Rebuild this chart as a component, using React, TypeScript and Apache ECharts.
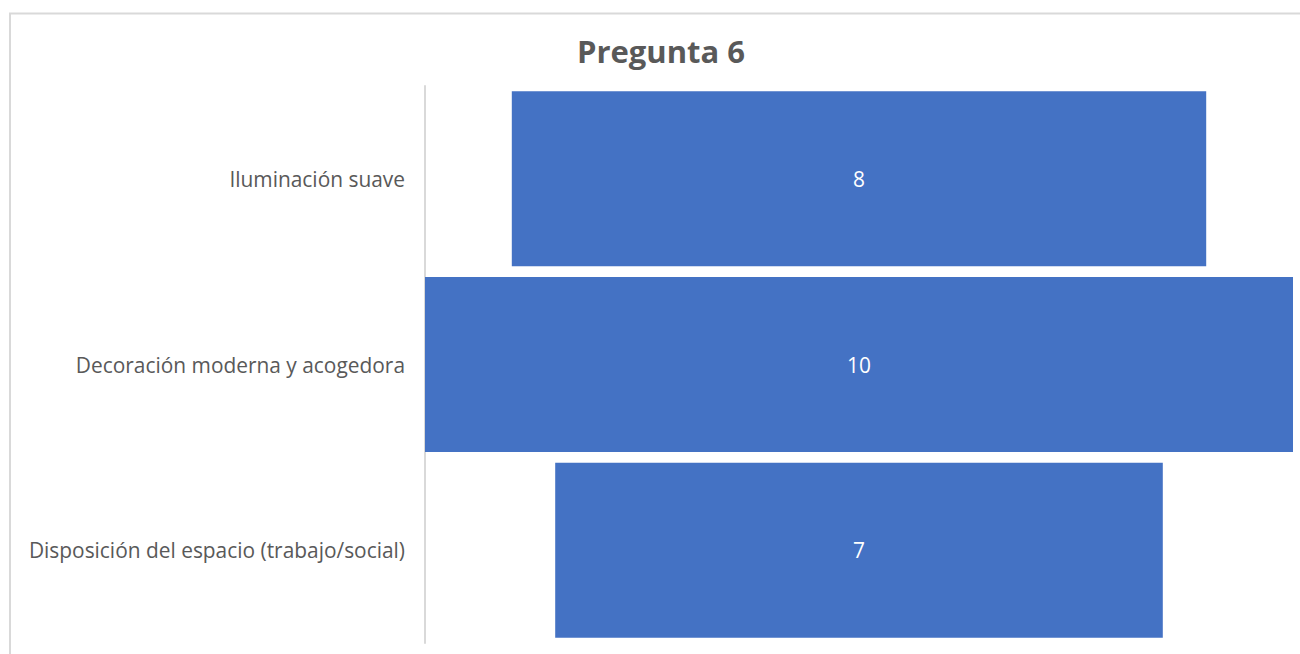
import React, { useEffect, useRef } from "react";
import * as echarts from "echarts";

const categories = [
  "Iluminación suave",
  "Decoración moderna y acogedora",
  "Disposición del espacio (trabajo/social)",
];
const values = [8, 10, 7];
const titleText = "Pregunta 6";

const FONT = "'Open Sans', 'Noto Sans', sans-serif";
const TEXT = "#595959";
const BAR = "#4472C4";

export default function App() {
  const ref = useRef<HTMLDivElement>(null);

  useEffect(() => {
    document.body.style.margin = "0";
    if (!ref.current) return;
    const chart = echarts.init(ref.current, undefined, { renderer: "svg" });
    const maxVal = Math.max(...values);
    // invisible offsets center each bar to build the funnel shape
    const offsets = values.map((v) => (maxVal - v) / 2);

    chart.setOption({
      animation: false,
      backgroundColor: "#ffffff",
      title: {
        text: titleText,
        left: 656,
        textAlign: "center",
        top: 30,
        textStyle: { fontFamily: FONT, fontSize: 31, fontWeight: "bold", color: TEXT },
      },
      graphic: [
        {
          type: "polyline",
          shape: { points: [[10, 700], [10, 13.5], [1310, 13.5]] },
          style: { stroke: "#d9d9d9", lineWidth: 2, fill: "none" },
          silent: true,
        },
      ],
      grid: { left: 425, right: 7, top: 86, bottom: 11, containLabel: false },
      xAxis: {
        type: "value",
        min: 0,
        max: maxVal,
        show: false,
      },
      yAxis: {
        type: "category",
        data: categories,
        inverse: true,
        axisLine: { show: true, lineStyle: { color: "#d9d9d9", width: 2 } },
        axisTick: { show: false },
        axisLabel: {
          margin: 20,
          fontFamily: FONT,
          fontSize: 20.9,
          color: TEXT,
        },
      },
      series: [
        {
          type: "bar",
          stack: "funnel",
          data: offsets,
          barWidth: 175,
          itemStyle: { color: "transparent" },
          silent: true,
        },
        {
          type: "bar",
          stack: "funnel",
          data: values,
          barWidth: 175,
          itemStyle: { color: BAR },
          label: {
            show: true,
            position: "inside",
            fontFamily: FONT,
            fontSize: 20.9,
            color: "#ffffff",
          },
        },
      ],
    });
    return () => chart.dispose();
  }, []);

  return <div ref={ref} style={{ width: 1300, height: 654 }} />;
}
